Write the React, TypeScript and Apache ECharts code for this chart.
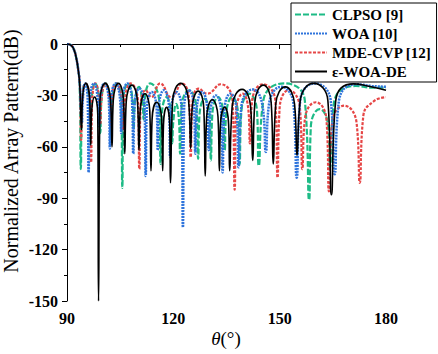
import React, { useEffect, useRef } from "react";
import * as echarts from "echarts";

const seriesNames = ["CLPSO [9]", "WOA [10]", "MDE-CVP [12]", "ε-WOA-DE"];
const xRange = [90, 180];
const xStep = 30;
const yRange = [-150, 0];
const yStep = 30;

// [theta (deg), normalized pattern (dB)] : main lobe, then peak / shoulder / null / shoulder ...
const clpso: [number, number][] = [
  [90, 0], [91.2, -0.8], [92.0, -3.5], [92.6, -8], [93.1, -14], [93.55, -23],
  [93.9, -73], [94.2, -33], [95.2, -23], [96.3, -33], [96.6, -48], [96.9, -33],
  [97.9, -23], [99.1, -33], [99.4, -52], [99.7, -33], [100.9, -23], [102.1, -33],
  [102.4, -55], [102.7, -33], [104.0, -23], [105.3, -33], [105.6, -84], [105.9, -33],
  [107.2, -23], [108.5, -33], [108.8, -50], [109.1, -35], [110.3, -25], [111.3, -35],
  [111.6, -44], [111.9, -33], [113.5, -23], [116.0, -33], [116.4, -70], [116.75, -41],
  [118.1, -31], [119.35, -41], [119.7, -58], [120.0, -45], [120.8, -35], [121.6, -45],
  [121.9, -64], [122.3, -37], [124.4, -27], [126.5, -37], [127.0, -67], [127.35, -42],
  [128.8, -32], [130.25, -42], [130.6, -68], [131.0, -41], [132.6, -31], [134.1, -41],
  [134.5, -62], [134.9, -41], [136.6, -31], [138.3, -41], [138.7, -70], [139.2, -39],
  [141.4, -29], [143.6, -39], [144.1, -71], [145.4, -33], [151.3, -23], [157.1, -33],
  [158.3, -91], [158.8, -48], [161.3, -38], [163.7, -48], [164.2, -72], [165.3, -34.5],
  [171.5, -24.5], [176, -25.5], [180, -25.5],
];

const woa: [number, number][] = [
  [90, 0], [91.2, -0.8], [92.0, -3.5], [92.6, -8], [93.1, -14], [93.6, -23],
  [94.2, -46], [94.45, -33], [95.1, -23], [95.85, -33], [96.1, -75], [96.4, -33],
  [97.6, -23], [98.7, -33], [99.0, -48], [99.3, -33], [100.5, -23], [101.8, -33],
  [102.1, -61], [102.4, -33], [103.7, -23], [105.0, -33], [105.3, -52], [105.6, -33],
  [107.0, -23], [108.35, -33], [108.7, -64], [109.05, -36], [110.4, -26], [111.85, -36],
  [112.2, -77], [112.5, -38], [113.9, -28], [115.3, -38], [115.6, -62], [115.9, -37],
  [117.3, -27], [118.8, -37], [119.1, -66], [119.45, -38], [120.9, -28], [122.35, -38],
  [122.7, -107], [123.05, -37], [124.4, -27], [125.85, -37], [126.2, -64], [126.6, -38],
  [128.1, -28], [129.6, -38], [130.0, -62], [130.4, -40], [132.0, -30], [133.5, -40],
  [133.9, -75], [134.35, -39], [136.1, -29], [137.9, -39], [138.4, -72], [139.2, -36.5],
  [142.4, -26.5], [145.2, -36.5], [146.1, -63], [147.0, -35], [150.4, -25], [153.9, -35],
  [154.8, -78], [155.8, -33], [160.0, -23], [164.4, -33], [165.5, -76], [166.7, -33.5],
  [171.5, -23.5], [176, -24.5], [180, -25],
];

const mdecvp: [number, number][] = [
  [90, 0], [91.2, -0.8], [92.0, -3.5], [92.6, -8], [93.1, -14], [93.6, -23],
  [94.0, -56], [94.3, -33], [95.2, -23], [96.5, -33], [96.8, -69], [97.1, -33],
  [98.0, -23], [99.1, -33], [99.4, -47], [99.7, -33], [100.8, -23], [102.0, -33],
  [102.3, -50], [102.6, -33], [103.8, -23], [105.5, -33], [105.9, -50], [106.3, -33],
  [108.0, -23], [110.0, -33], [110.4, -73], [110.75, -37], [112.2, -27], [113.8, -31],
  [116.3, -23], [119.4, -31], [122.4, -23], [124.45, -33], [124.9, -66], [125.35, -36],
  [127.2, -26], [129.6, -29], [133.3, -23.5], [136.7, -33.5], [137.3, -85], [137.7, -39],
  [139.6, -29], [141.2, -39], [141.6, -58], [142.2, -33.5], [145.3, -23.5], [148.8, -33.5],
  [149.4, -78], [150.0, -37], [152.6, -27], [155.7, -37], [156.4, -73], [157.1, -44],
  [160.2, -34], [163.2, -44], [163.9, -86], [164.8, -46], [168.2, -36], [171.7, -46],
  [172.6, -81], [173.6, -42], [176.5, -33.5], [180, -31],
];

const ewoade: [number, number][] = [
  [90, 0], [91.2, -0.8], [92.0, -3.5], [92.6, -8], [93.1, -14], [93.6, -24],
  [94.1, -50], [94.35, -33], [95.3, -23], [96.42, -33], [96.7, -59], [96.92, -41],
  [97.8, -31], [98.68, -41], [98.9, -150], [99.3, -33], [100.8, -23], [102.3, -33],
  [102.7, -60], [103.05, -33], [104.5, -23], [105.95, -33], [106.3, -64], [106.7, -34],
  [108.3, -24], [109.9, -34], [110.3, -62], [110.65, -39], [112.0, -29], [113.35, -39],
  [113.7, -74], [114.0, -44], [115.3, -34], [116.7, -44], [117.0, -74], [117.22, -47],
  [118.1, -37], [118.98, -47], [119.2, -81], [119.8, -33], [122.1, -23], [124.3, -33],
  [124.9, -61], [125.3, -37.5], [127.0, -27.5], [128.6, -37.5], [129.0, -77], [129.4, -42.5],
  [131.0, -32.5], [132.6, -42.5], [133.0, -74], [133.3, -47], [134.5, -37], [135.6, -47],
  [135.9, -74], [136.6, -36.5], [139.4, -26.5], [141.8, -36.5], [142.4, -68], [143.0, -34],
  [145.4, -24], [147.6, -34], [148.2, -70], [148.9, -35], [151.6, -25], [154.2, -35],
  [154.9, -65], [155.8, -33], [159.6, -23], [163.6, -33], [164.6, -88], [165.8, -33.3],
  [170.8, -23.3], [175.5, -24.8], [180, -27],
];

const colors = { clpso: "#1dbb86", woa: "#2f74dc", mdecvp: "#e64646", ewoade: "#000000" };
const serif = "'Liberation Serif', 'Times New Roman', serif";

export default function App() {
  const ref = useRef<HTMLDivElement>(null);
  useEffect(() => {
    const chart = echarts.init(ref.current!, null, { renderer: "svg" });
    chart.setOption({
      animation: false,
      backgroundColor: "#fff",
      grid: { left: 67, right: 52, top: 44, bottom: 53, containLabel: false },
      legend: {
        data: seriesNames.map((name) => ({ name, itemStyle: { opacity: 0 } })),
        orient: "vertical",
        left: 291,
        top: 3,
        padding: [4, 5, 3, 3],
        itemWidth: 32,
        itemHeight: 12,
        itemGap: 4,
        borderColor: "#000",
        borderWidth: 1,
        backgroundColor: "#fff",
        textStyle: { fontFamily: serif, fontWeight: "bold", fontSize: 15, color: "#000", lineHeight: 15 },
      },
      xAxis: {
        type: "value",
        min: xRange[0],
        max: xRange[1],
        interval: xStep,
        axisLine: { show: true, lineStyle: { color: "#000", width: 1 } },
        axisTick: { show: true, length: 5, lineStyle: { color: "#000" } },
        minorTick: { show: true, splitNumber: 2, length: 3, lineStyle: { color: "#000" } },
        splitLine: { show: false },
        axisLabel: { margin: 9, fontFamily: serif, fontWeight: "bold", fontSize: 16, color: "#000" },
      },
      yAxis: {
        type: "value",
        min: yRange[0],
        max: yRange[1],
        interval: yStep,
        axisLine: { show: true, lineStyle: { color: "#000", width: 1 } },
        axisTick: { show: true, length: 5, lineStyle: { color: "#000" } },
        minorTick: { show: true, splitNumber: 2, length: 3, lineStyle: { color: "#000" } },
        splitLine: { show: false },
        axisLabel: { margin: 9, fontFamily: serif, fontWeight: "bold", fontSize: 16, color: "#000" },
      },
      graphic: [
        {
          type: "text",
          x: 11,
          y: 151,
          rotation: Math.PI / 2,
          style: {
            text: "Normalized Array Pattern(dB)",
            font: `20px ${serif}`,
            fill: "#000",
            align: "center",
            verticalAlign: "middle",
          },
        },
        {
          type: "text",
          x: 226,
          y: 338,
          style: {
            text: "{i|θ}(°)",
            font: `19px ${serif}`,
            fill: "#000",
            align: "center",
            verticalAlign: "middle",
            rich: { i: { fontStyle: "italic", font: `italic 19px ${serif}` } },
          },
        },
      ],
      series: [
        {
          name: seriesNames[0], type: "line", data: clpso, smooth: 0.5, symbol: "none",
          lineStyle: { color: colors.clpso, width: 2.2, type: [6, 2] }, itemStyle: { color: colors.clpso },
        },
        {
          name: seriesNames[2], type: "line", data: mdecvp, smooth: 0.5, symbol: "none",
          lineStyle: { color: colors.mdecvp, width: 2.2, type: [3, 1.5] }, itemStyle: { color: colors.mdecvp },
        },
        {
          name: seriesNames[1], type: "line", data: woa, smooth: 0.5, symbol: "none",
          lineStyle: { color: colors.woa, width: 2.5, type: [2, 1] }, itemStyle: { color: colors.woa },
        },
        {
          name: seriesNames[3], type: "line", data: ewoade, smooth: 0.5, symbol: "none",
          lineStyle: { color: colors.ewoade, width: 1.6 }, itemStyle: { color: colors.ewoade },
        },
      ],
    });
    return () => chart.dispose();
  }, []);
  return <div ref={ref} style={{ position: "absolute", left: 0, top: 0, width: 438, height: 354 }} />;
}
